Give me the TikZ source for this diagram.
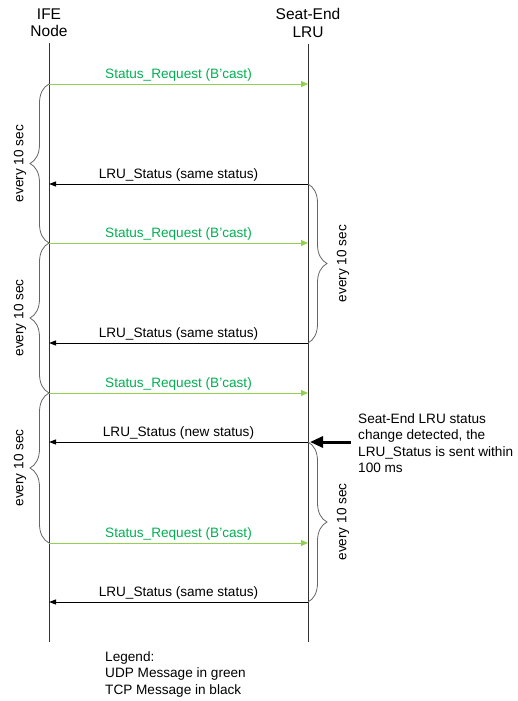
\documentclass[tikz,border=0pt]{standalone}
\usepackage{fontspec}
\setmainfont{Liberation Sans}
\usetikzlibrary{arrows.meta,decorations.pathreplacing,positioning}
\definecolor{udpline}{RGB}{146,208,80}
\definecolor{udptext}{RGB}{0,176,80}

\begin{document}
\begin{tikzpicture}[x=1pt,y=1pt,
  head/.style={align=center,anchor=north,inner xsep=0pt,inner ysep=6pt,font=\fontsize{15.5}{17.5}\selectfont},
  life/.style={draw=black!80,line width=1pt},
  udp/.style={draw=udpline,line width=1pt,-{Triangle[length=7pt,width=6pt]}},
  tcp/.style={draw=black,line width=1pt,-{Triangle[length=7pt,width=5pt]}},
  msg/.style={midway,above,inner sep=2pt,font=\fontsize{13.6}{16}\selectfont},
  every10/.style={decorate,decoration={brace,amplitude=19pt},draw=black!60,line width=0.8pt},
  period/.style={rotate=90,font=\fontsize{13.6}{16}\selectfont},
  txt/.style={align=left,anchor=north west,inner sep=0pt,font=\fontsize{13.6}{16.5}\selectfont},
  notearrow/.style={line width=3pt,-{Triangle[length=13pt,width=11pt]},shorten >=2pt}]

\useasboundingbox (0,0) rectangle (517,-701);

% lifelines
\node (ife)[head] at (49,-2.5) {IFE\\Node};
\node (lru)[head] at (308,-2.5) {Seat-End\\LRU};
\coordinate (ifeEnd) at (49,-642);
\coordinate (lruEnd) at (308,-642);
\draw[life] (ife) -- (ifeEnd);
\draw[life] (lru) -- (lruEnd);

\foreach \m/\y in {g1/84,b1/184,g2/243,b2/343,g3/393,b3/442,g4/543,b4/602}{
  \coordinate (i\m) at (49,-\y);
  \coordinate (l\m) at (308,-\y);
}

% messages
\draw[udp] (ig1) -- (lg1) node[msg,text=udptext]{Status\_Request (B’cast)};
\draw[tcp] (lb1) -- (ib1) node[msg]{LRU\_Status (same status)};
\draw[udp] (ig2) -- (lg2) node[msg,text=udptext]{Status\_Request (B’cast)};
\draw[tcp] (lb2) -- (ib2) node[msg]{LRU\_Status (same status)};
\draw[udp] (ig3) -- (lg3) node[msg,text=udptext]{Status\_Request (B’cast)};
\draw[tcp] (lb3) -- (ib3) node[msg]{LRU\_Status (new status)};
\draw[udp] (ig4) -- (lg4) node[msg,text=udptext]{Status\_Request (B’cast)};
\draw[tcp] (lb4) -- (ib4) node[msg]{LRU\_Status (same status)};

% periods
\draw[every10] (ig2) -- (ig1);
\draw[every10] (ig3) -- (ig2);
\draw[every10] (ig4) -- (ig3);
\draw[every10] (lb1) -- (lb2);
\draw[every10] (lb3) -- (lb4);
\node (p1)[period] at (20,-163.5) {every 10 sec};
\node (p2)[period] at (20,-318) {every 10 sec};
\node (p3)[period] at (20,-468) {every 10 sec};
\node (p4)[period] at (343,-263.5) {every 10 sec};
\node (p5)[period] at (343,-522) {every 10 sec};

% status change
\coordinate (note) at (351,-442);
\draw[notearrow] (note) -- (lb3);
\node (notetext)[txt] at (358,-413) {Seat-End LRU status\\change detected, the\\LRU\_Status is sent within\\100 ms};

\node (legend)[txt] at (105,-651) {Legend:\\UDP Message in green\\TCP Message in black};
\end{tikzpicture}
\end{document}
